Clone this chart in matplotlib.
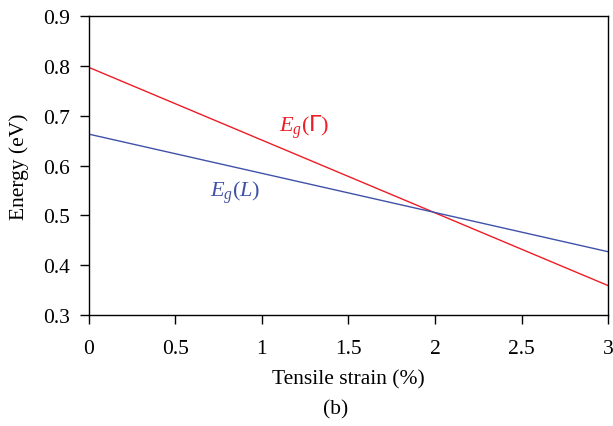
import matplotlib
matplotlib.use("Agg")
import matplotlib.pyplot as plt
import numpy as np

strain = [0.0, 3.0]
eg_gamma = [0.797, 0.359]
eg_L = [0.663, 0.427]
xticks = [0, 0.5, 1, 1.5, 2, 2.5, 3]
xticklabels = ["0", "0.5", "1", "1.5", "2", "2.5", "3"]
yticks = [0.3, 0.4, 0.5, 0.6, 0.7, 0.8, 0.9]
yticklabels = ["0.3", "0.4", "0.5", "0.6", "0.7", "0.8", "0.9"]

plt.rcParams['font.family'] = ['Liberation Serif', 'DejaVu Serif']
plt.rcParams['mathtext.fontset'] = 'custom'
plt.rcParams['mathtext.it'] = 'Liberation Serif:italic'
plt.rcParams['mathtext.rm'] = 'Liberation Serif'
plt.rcParams['mathtext.sf'] = 'DejaVu Sans'

fig = plt.figure(figsize=(6.13, 4.27), dpi=100)
ax = fig.add_axes([0.145, 0.260, 0.847, 0.700])

red = '#ee1c25'
blue = '#3f51a8'
ax.plot(strain, eg_gamma, color=red, lw=1.0)
ax.plot(strain, eg_L, color=blue, lw=1.0)

fs = 15.5
ax.set_xlim(0, 3)
ax.set_ylim(0.3, 0.9)
ax.set_xticks(xticks)
ax.set_xticklabels(xticklabels)
ax.set_yticks(yticks)
ax.set_yticklabels(yticklabels)
ax.tick_params(direction='out', length=6.5, width=1, labelsize=fs,
               top=False, right=False)
ax.tick_params(axis='x', pad=11)
ax.tick_params(axis='y', pad=7)
for s in ax.spines.values():
    s.set_linewidth(1.0)

ax.set_xlabel("Tensile strain (%)", fontsize=fs, labelpad=8)
ax.set_ylabel("Energy (eV)", fontsize=fs, labelpad=10)

ax.text(1.1, 0.679, r"$E_g(\mathsf{\Gamma})$", color=red, fontsize=16, va='center', ha='left')
ax.text(0.70, 0.547, r"$E_g(L)$", color=blue, fontsize=16, va='center', ha='left')

fig.text(336/613, 1 - 410/427, "(b)", fontsize=fs, ha='center', va='center')

fig.savefig("out.png", dpi=100)
